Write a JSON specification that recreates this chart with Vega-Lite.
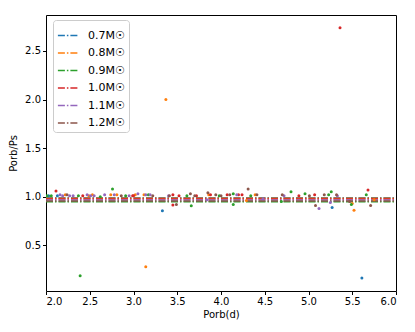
{
  "$schema": "https://vega.github.io/schema/vega-lite/v6.json",
  "width": 350,
  "height": 276,
  "autosize": {"type": "none"},
  "padding": {"left": 46, "top": 15, "right": 19, "bottom": 41},
  "background": "white",
  "config": {
    "view": {"stroke": "black", "strokeWidth": 1},
    "font": "DejaVu Sans",
    "axis": {
      "domain": false, "grid": false, "tickColor": "black", "tickSize": 3.5,
      "labelColor": "black", "labelFontSize": 10, "titleFontSize": 10,
      "titleFontWeight": "normal", "titleColor": "black", "labelFont": "DejaVu Sans", "titleFont": "DejaVu Sans"
    }
  },
  "datasets": {
    "lines": [
      {"mass": "0.7M☉", "x": 2.0, "y": 0.99}, {"mass": "0.7M☉", "x": 6.0, "y": 0.99},
      {"mass": "0.8M☉", "x": 2.0, "y": 0.984}, {"mass": "0.8M☉", "x": 6.0, "y": 0.984},
      {"mass": "0.9M☉", "x": 2.0, "y": 0.948}, {"mass": "0.9M☉", "x": 6.0, "y": 0.948},
      {"mass": "1.0M☉", "x": 2.0, "y": 0.976}, {"mass": "1.0M☉", "x": 6.0, "y": 0.976},
      {"mass": "1.1M☉", "x": 2.0, "y": 0.966}, {"mass": "1.1M☉", "x": 6.0, "y": 0.966},
      {"mass": "1.2M☉", "x": 2.0, "y": 0.957}, {"mass": "1.2M☉", "x": 6.0, "y": 0.957}
    ],
    "points": [
      {"mass": "0.7M☉", "x": 2.03, "y": 1.01}, {"mass": "0.7M☉", "x": 2.13, "y": 1.01},
      {"mass": "0.7M☉", "x": 3.33, "y": 0.855}, {"mass": "0.7M☉", "x": 5.27, "y": 0.89},
      {"mass": "0.7M☉", "x": 5.61, "y": 0.165},
      {"mass": "0.8M☉", "x": 2.22, "y": 1.02}, {"mass": "0.8M☉", "x": 2.49, "y": 1.01},
      {"mass": "0.8M☉", "x": 2.53, "y": 1.02}, {"mass": "0.8M☉", "x": 2.74, "y": 1.02},
      {"mass": "0.8M☉", "x": 2.81, "y": 1.02}, {"mass": "0.8M☉", "x": 3.02, "y": 1.02},
      {"mass": "0.8M☉", "x": 3.12, "y": 1.02}, {"mass": "0.8M☉", "x": 3.14, "y": 0.28},
      {"mass": "0.8M☉", "x": 3.37, "y": 2.0}, {"mass": "0.8M☉", "x": 3.86, "y": 1.02},
      {"mass": "0.8M☉", "x": 4.29, "y": 0.96}, {"mass": "0.8M☉", "x": 4.39, "y": 1.02},
      {"mass": "0.8M☉", "x": 5.5, "y": 0.93}, {"mass": "0.8M☉", "x": 5.52, "y": 0.86},
      {"mass": "0.8M☉", "x": 5.75, "y": 0.97},
      {"mass": "0.9M☉", "x": 2.01, "y": 1.01}, {"mass": "0.9M☉", "x": 2.06, "y": 1.01},
      {"mass": "0.9M☉", "x": 2.37, "y": 1.01}, {"mass": "0.9M☉", "x": 2.39, "y": 0.186},
      {"mass": "0.9M☉", "x": 2.62, "y": 1.0}, {"mass": "0.9M☉", "x": 2.76, "y": 1.08},
      {"mass": "0.9M☉", "x": 2.91, "y": 1.01}, {"mass": "0.9M☉", "x": 3.17, "y": 1.02},
      {"mass": "0.9M☉", "x": 3.61, "y": 1.01}, {"mass": "0.9M☉", "x": 3.66, "y": 0.907},
      {"mass": "0.9M☉", "x": 3.98, "y": 1.01}, {"mass": "0.9M☉", "x": 4.14, "y": 1.03},
      {"mass": "0.9M☉", "x": 4.14, "y": 0.92}, {"mass": "0.9M☉", "x": 4.34, "y": 1.01},
      {"mass": "0.9M☉", "x": 4.69, "y": 0.95}, {"mass": "0.9M☉", "x": 4.8, "y": 1.05},
      {"mass": "0.9M☉", "x": 4.96, "y": 1.03}, {"mass": "0.9M☉", "x": 5.23, "y": 1.02},
      {"mass": "0.9M☉", "x": 5.26, "y": 1.05}, {"mass": "0.9M☉", "x": 5.49, "y": 0.92},
      {"mass": "0.9M☉", "x": 5.66, "y": 1.02},
      {"mass": "1.0M☉", "x": 2.114, "y": 1.059}, {"mass": "1.0M☉", "x": 2.42, "y": 1.01},
      {"mass": "1.0M☉", "x": 2.99, "y": 1.01}, {"mass": "1.0M☉", "x": 3.0, "y": 1.01},
      {"mass": "1.0M☉", "x": 3.45, "y": 1.02}, {"mass": "1.0M☉", "x": 3.45, "y": 0.915},
      {"mass": "1.0M☉", "x": 3.52, "y": 1.01}, {"mass": "1.0M☉", "x": 3.72, "y": 1.01},
      {"mass": "1.0M☉", "x": 3.88, "y": 1.02}, {"mass": "1.0M☉", "x": 4.07, "y": 1.02},
      {"mass": "1.0M☉", "x": 4.2, "y": 1.02}, {"mass": "1.0M☉", "x": 4.24, "y": 1.02},
      {"mass": "1.0M☉", "x": 4.89, "y": 1.01}, {"mass": "1.0M☉", "x": 5.07, "y": 1.02},
      {"mass": "1.0M☉", "x": 5.36, "y": 2.74}, {"mass": "1.0M☉", "x": 5.68, "y": 1.07},
      {"mass": "1.1M☉", "x": 2.16, "y": 1.02}, {"mass": "1.1M☉", "x": 2.19, "y": 1.01},
      {"mass": "1.1M☉", "x": 2.27, "y": 1.01}, {"mass": "1.1M☉", "x": 2.31, "y": 1.01},
      {"mass": "1.1M☉", "x": 2.47, "y": 1.02}, {"mass": "1.1M☉", "x": 2.51, "y": 1.01},
      {"mass": "1.1M☉", "x": 2.55, "y": 1.01}, {"mass": "1.1M☉", "x": 2.67, "y": 1.02},
      {"mass": "1.1M☉", "x": 2.78, "y": 1.02}, {"mass": "1.1M☉", "x": 2.95, "y": 1.01},
      {"mass": "1.1M☉", "x": 3.05, "y": 1.03}, {"mass": "1.1M☉", "x": 3.14, "y": 1.02},
      {"mass": "1.1M☉", "x": 3.19, "y": 1.02}, {"mass": "1.1M☉", "x": 3.4, "y": 1.01},
      {"mass": "1.1M☉", "x": 3.84, "y": 0.97}, {"mass": "1.1M☉", "x": 4.18, "y": 1.02},
      {"mass": "1.1M☉", "x": 4.48, "y": 0.98}, {"mass": "1.1M☉", "x": 4.72, "y": 1.01},
      {"mass": "1.1M☉", "x": 5.12, "y": 0.88}, {"mass": "1.1M☉", "x": 5.25, "y": 0.94},
      {"mass": "1.1M☉", "x": 5.33, "y": 1.01},
      {"mass": "1.2M☉", "x": 2.24, "y": 1.02}, {"mass": "1.2M☉", "x": 2.86, "y": 1.01},
      {"mass": "1.2M☉", "x": 3.22, "y": 1.01}, {"mass": "1.2M☉", "x": 3.41, "y": 1.01},
      {"mass": "1.2M☉", "x": 3.49, "y": 0.92}, {"mass": "1.2M☉", "x": 3.65, "y": 1.03},
      {"mass": "1.2M☉", "x": 3.7, "y": 1.01}, {"mass": "1.2M☉", "x": 3.85, "y": 1.04},
      {"mass": "1.2M☉", "x": 3.94, "y": 1.02}, {"mass": "1.2M☉", "x": 4.0, "y": 1.01},
      {"mass": "1.2M☉", "x": 4.1, "y": 1.02}, {"mass": "1.2M☉", "x": 4.31, "y": 1.08},
      {"mass": "1.2M☉", "x": 4.41, "y": 1.02}, {"mass": "1.2M☉", "x": 4.7, "y": 1.02},
      {"mass": "1.2M☉", "x": 5.01, "y": 1.01}, {"mass": "1.2M☉", "x": 5.08, "y": 0.91},
      {"mass": "1.2M☉", "x": 5.18, "y": 1.02}, {"mass": "1.2M☉", "x": 5.32, "y": 1.02},
      {"mass": "1.2M☉", "x": 5.47, "y": 0.95}, {"mass": "1.2M☉", "x": 5.71, "y": 0.91}
    ]
  },
  "encoding": {
    "x": {
      "field": "x", "type": "quantitative",
      "scale": {"domain": [2, 6], "nice": false, "zero": false},
      "axis": {"values": [2, 2.5, 3, 3.5, 4, 4.5, 5, 5.5, 6], "format": ".1f", "title": "Porb(d)", "titlePadding": 3}
    },
    "y": {
      "field": "y", "type": "quantitative",
      "scale": {"domain": [0.03, 2.87], "nice": false, "zero": false},
      "axis": {"values": [0.5, 1, 1.5, 2, 2.5], "format": ".1f", "title": "Porb/Ps", "titlePadding": 6}
    },
    "color": {
      "field": "mass", "type": "nominal",
      "scale": {
        "domain": ["0.7M☉", "0.8M☉", "0.9M☉", "1.0M☉", "1.1M☉", "1.2M☉"],
        "range": ["#1f77b4", "#ff7f0e", "#2ca02c", "#d62728", "#9467bd", "#8c564b"]
      },
      "legend": {
        "title": null, "orient": "none", "legendX": 7, "legendY": 5,
        "symbolType": "stroke", "symbolDash": [7, 2, 1.5, 2], "symbolStrokeWidth": 1.5,
        "symbolSize": 450, "labelFontSize": 11, "labelColor": "black", "rowPadding": 0.5,
        "strokeColor": "#cccccc", "fillColor": "white", "cornerRadius": 3, "padding": 4,
        "labelOffset": 8
      }
    }
  },
  "layer": [
    {
      "data": {"name": "lines"},
      "mark": {"type": "line", "strokeWidth": 1.5, "strokeDash": [7, 2, 1.5, 2], "clip": true}
    },
    {
      "data": {"name": "points"},
      "mark": {"type": "circle", "size": 9, "opacity": 1, "clip": true}
    }
  ]
}
